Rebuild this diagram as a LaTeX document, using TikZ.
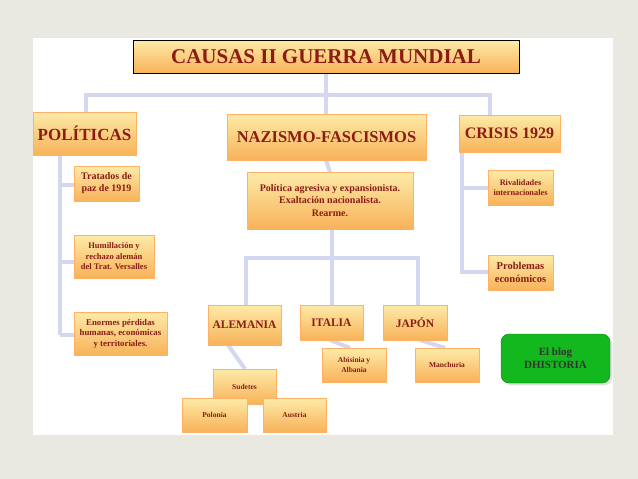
\documentclass[tikz,border=0pt]{standalone}
\usepackage{fontspec}
\setmainfont{Liberation Serif}
\usetikzlibrary{shadows}
\definecolor{bgcol}{HTML}{E9E9E1}
\definecolor{linkcol}{HTML}{D4D7F0}
\definecolor{txtcol}{HTML}{8A1C14}
\definecolor{topcol}{HTML}{FDEBA8}
\definecolor{botcol}{HTML}{F8B259}
\definecolor{blogcol}{HTML}{13B81E}
\tikzset{
  box/.style = {top color = topcol, bottom color = botcol, draw = orange!60,
    text = txtcol, font = \bfseries, align = center, inner sep = 1pt,
    drop shadow = {opacity = 0.25, shadow xshift = 1pt, shadow yshift = -1pt}},
  link/.style = {draw = linkcol, line width = 4pt}
}
\begin{document}
\begin{tikzpicture}[x = 1pt, y = -1pt]

  \fill[bgcol] (0, 0) rectangle (638, 479);
  \fill[white] (33, 38) rectangle (613, 435);

  % links first
  \draw[link] (326, 73) -- (326, 114);
  \draw[link] (86, 112) |- (326, 95) -| (490, 115);
  \draw[link] (60, 155) -- (60, 335);
  \foreach \y in {185, 262, 335} {
    \draw[link] (60, \y) -- (76, \y);
  }
  \draw[link] (462, 152) |- (490, 272);
  \draw[link] (462, 188) -- (490, 188);
  \draw[link] (326, 160) -- (330, 172);
  \draw[link] (332, 229) -- (332, 305);
  \draw[link] (246, 305) |- (418, 258) -- (418, 305);
  \draw[link] (228, 345) -- (245, 369);
  \draw[link] (330, 340) -- (350, 348);
  \draw[link] (420, 340) -- (445, 348);

  \node[box, draw = black, line width = 1pt, minimum width = 386pt,
    minimum height = 33pt, font = \bfseries\fontsize{21}{22}\selectfont]
    (title) at (326, 56.5) {CAUSAS II GUERRA MUNDIAL};

  \node[box, minimum width = 103pt, minimum height = 43pt,
    font = \bfseries\fontsize{17}{18}\selectfont]
    (pol) at (84.5, 133.5) {POLÍTICAS};
  \node[box, minimum width = 199pt, minimum height = 46pt,
    font = \bfseries\fontsize{16.5}{17}\selectfont]
    (naz) at (326.5, 137) {NAZISMO-FASCISMOS};
  \node[box, minimum width = 101pt, minimum height = 37pt,
    font = \bfseries\fontsize{16}{17}\selectfont]
    (cri) at (509.5, 133.5) {CRISIS 1929};

  \node[box, minimum width = 65pt, minimum height = 35pt,
    font = \bfseries\fontsize{10}{12}\selectfont]
    (trat) at (106.5, 183.5) {Tratados de\\paz de 1919};
  \node[box, minimum width = 80pt, minimum height = 43pt,
    font = \bfseries\fontsize{8.5}{10.5}\selectfont]
    (hum) at (114, 256.5) {Humillación y\\rechazo alemán\\del Trat. Versalles};
  \node[box, minimum width = 93pt, minimum height = 43pt,
    font = \bfseries\fontsize{8.8}{10.5}\selectfont]
    (enor) at (120.5, 333.5) {Enormes pérdidas\\humanas, económicas\\y territoriales.};

  \node[box, minimum width = 166pt, minimum height = 57pt,
    font = \bfseries\fontsize{10}{12.5}\selectfont]
    (agr) at (330, 200.5) {Política agresiva y expansionista.\\Exaltación nacionalista.\\Rearme.};

  \node[box, minimum width = 73pt, minimum height = 40pt,
    font = \bfseries\fontsize{11.5}{12}\selectfont]
    (ale) at (244.5, 325) {ALEMANIA};
  \node[box, minimum width = 63pt, minimum height = 35pt,
    font = \bfseries\fontsize{11.5}{12}\selectfont]
    (ita) at (331.5, 322.5) {ITALIA};
  \node[box, minimum width = 64pt, minimum height = 35pt,
    font = \bfseries\fontsize{11.5}{12}\selectfont]
    (jap) at (415, 322.5) {JAPÓN};

  \node[box, minimum width = 64pt, minimum height = 34pt,
    font = \bfseries\fontsize{7.5}{9.5}\selectfont]
    (abi) at (354, 365) {Abisinia y\\Albania};
  \node[box, minimum width = 64pt, minimum height = 34pt,
    font = \bfseries\fontsize{7.5}{9.5}\selectfont]
    (man) at (447, 365) {Manchuria};

  \node[box, minimum width = 63pt, minimum height = 35pt,
    font = \bfseries\fontsize{7.5}{9.5}\selectfont]
    (sud) at (244.5, 386.5) {Sudetes};
  \node[box, minimum width = 65pt, minimum height = 34pt,
    font = \bfseries\fontsize{7.5}{9.5}\selectfont]
    (pola) at (214.5, 415) {Polonia};
  \node[box, minimum width = 63pt, minimum height = 34pt,
    font = \bfseries\fontsize{7.5}{9.5}\selectfont]
    (aus) at (294.5, 415) {Austria};

  \node[box, minimum width = 65pt, minimum height = 35pt,
    font = \bfseries\fontsize{8.3}{10.5}\selectfont]
    (riv) at (520.5, 187.5) {Rivalidades\\internacionales};
  \node[box, minimum width = 65pt, minimum height = 35pt,
    font = \bfseries\fontsize{10.5}{12.5}\selectfont]
    (prob) at (520.5, 272.5) {Problemas\\económicos};

  \node[fill = blogcol, draw = blogcol!70!black, rounded corners = 8pt,
    minimum width = 109pt, minimum height = 49pt, align = center,
    text = black!80, font = \bfseries\fontsize{11}{13}\selectfont,
    drop shadow = {opacity = 0.25}]
    (blog) at (555.5, 358.5) {El blog\\DHISTORIA};

\end{tikzpicture}
\end{document}
